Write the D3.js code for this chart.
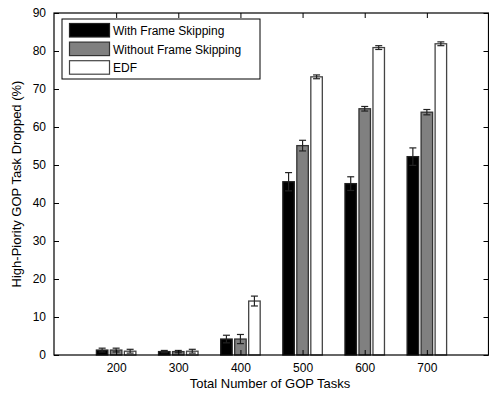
<!DOCTYPE html>
<html><head><meta charset="utf-8">
<script src="https://cdn.jsdelivr.net/npm/d3@7"></script>
<style>body{margin:0;background:#fff}svg{display:block}text{font-family:Arial,"Liberation Sans",sans-serif}</style>
</head><body>
<svg id="c" width="489" height="393"></svg>
<script>
const categories = [200, 300, 400, 500, 600, 700];
const seriesNames = ["With Frame Skipping", "Without Frame Skipping", "EDF"];
const withSkip = [1.3, 0.9, 4.2, 45.6, 45.1, 52.2];
const withSkipErr = [0.5, 0.3, 1.0, 2.4, 1.8, 2.3];
const withoutSkip = [1.3, 0.9, 4.2, 55.1, 64.8, 63.9];
const withoutSkipErr = [0.5, 0.3, 1.2, 1.4, 0.6, 0.7];
const edf = [1.0, 1.0, 14.2, 73.2, 80.9, 81.9];
const edfErr = [0.5, 0.5, 1.3, 0.5, 0.5, 0.5];
const yTicks = [0, 10, 20, 30, 40, 50, 60, 70, 80, 90];

const series = [
  {name: seriesNames[0], vals: withSkip, err: withSkipErr, fill: "#000", stroke: "#222"},
  {name: seriesNames[1], vals: withoutSkip, err: withoutSkipErr, fill: "#808080", stroke: "#333"},
  {name: seriesNames[2], vals: edf, err: edfErr, fill: "#fff", stroke: "#444"}
];

const L = 54, R = 489, T = 13, B = 355;
const svg = d3.select("#c");
const x = d3.scaleLinear().domain([100, 800]).range([L, R]);
const y = d3.scaleLinear().domain([0, 90]).range([B, T]);
const bw = 11.5, step = 14;

// bars
series.forEach((s, si) => {
  const g = svg.append("g");
  categories.forEach((c, i) => {
    const cx = x(c) + (si - 1) * step;
    g.append("rect").attr("x", cx - bw / 2).attr("y", y(s.vals[i]))
      .attr("width", bw).attr("height", y(0) - y(s.vals[i]))
      .attr("fill", s.fill).attr("stroke", s.stroke).attr("stroke-width", 1.3);
    const hi = y(s.vals[i] + s.err[i]), lo = y(s.vals[i] - s.err[i]);
    const eg = svg.append("g").attr("stroke", "#222").attr("stroke-width", 1.2);
    eg.append("line").attr("x1", cx).attr("x2", cx).attr("y1", hi).attr("y2", lo);
    eg.append("line").attr("x1", cx - 3.5).attr("x2", cx + 3.5).attr("y1", hi).attr("y2", hi);
    eg.append("line").attr("x1", cx - 3.5).attr("x2", cx + 3.5).attr("y1", lo).attr("y2", lo);
  });
});

// axes
const fs = "12px";
const ax = svg.append("g").attr("transform", `translate(0,${B})`)
  .call(d3.axisBottom(x).tickValues(categories).tickSize(-5).tickPadding(8));
const axT = svg.append("g").attr("transform", `translate(0,${T})`)
  .call(d3.axisTop(x).tickValues(categories).tickSize(-5).tickFormat(""));
const ay = svg.append("g").attr("transform", `translate(${L},0)`)
  .call(d3.axisLeft(y).tickValues(yTicks).tickSize(-5).tickPadding(8));
const ayR = svg.append("g").attr("transform", `translate(${R - 0.5},0)`)
  .call(d3.axisRight(y).tickValues(yTicks).tickSize(-5).tickFormat(""));
[ax, axT, ay, ayR].forEach(a => {
  a.select(".domain").remove();
  a.selectAll("line").attr("stroke", "#000").attr("stroke-width", 1);
  a.selectAll("text").attr("font-size", fs).attr("fill", "#000")
    .attr("font-family", "Arial, 'Liberation Sans', sans-serif");
});
svg.append("rect").attr("x", L).attr("y", T).attr("width", R - L - 0.5).attr("height", B - T)
  .attr("fill", "none").attr("stroke", "#000").attr("stroke-width", 1.2);

// titles
svg.append("text").attr("x", 270).attr("y", 388).attr("text-anchor", "middle")
  .attr("font-size", "13px").text("Total Number of GOP Tasks");
svg.append("text").attr("transform", "translate(21,184) rotate(-90)").attr("text-anchor", "middle")
  .attr("font-size", "13px").text("High-Piority GOP Task Dropped (%)");

// legend
const lg = svg.append("g");
lg.append("rect").attr("x", 62).attr("y", 19).attr("width", 198).attr("height", 60)
  .attr("fill", "#fff").attr("stroke", "#000").attr("stroke-width", 1);
series.forEach((s, i) => {
  const yy = 23.5 + i * 18.6;
  lg.append("rect").attr("x", 69.5).attr("y", yy).attr("width", 40).attr("height", 13.5)
    .attr("fill", s.fill).attr("stroke", s.stroke).attr("stroke-width", 1.2);
  lg.append("text").attr("x", 113).attr("y", yy + 11.5).attr("font-size", fs).text(s.name);
});
</script>
</body></html>
